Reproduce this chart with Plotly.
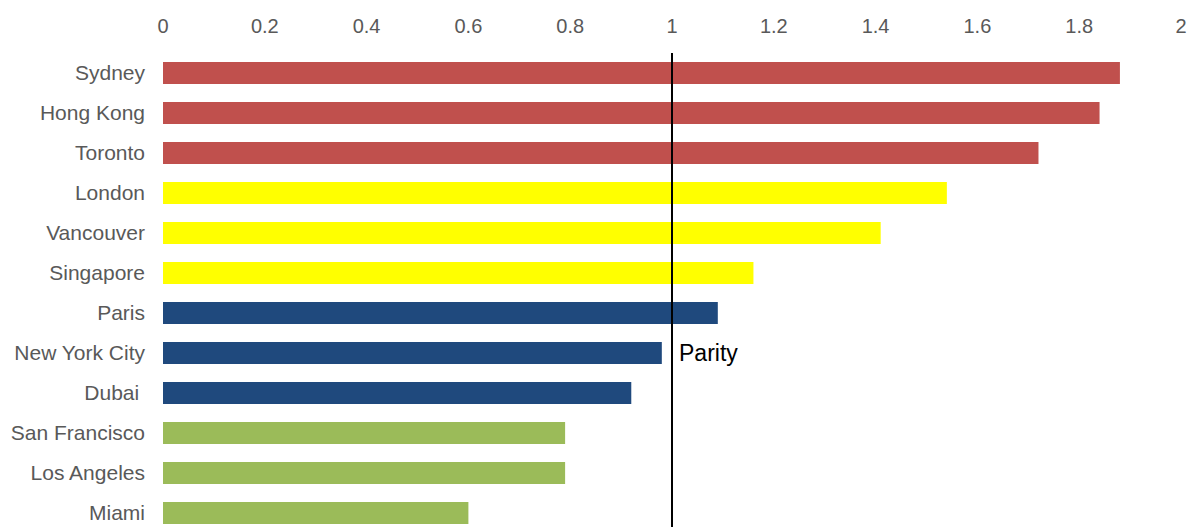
import plotly.graph_objects as go

cities = ["Sydney", "Hong Kong", "Toronto", "London", "Vancouver", "Singapore",
          "Paris", "New York City", "Dubai ", "San Francisco", "Los Angeles", "Miami"]
values = [1.88, 1.84, 1.72, 1.54, 1.41, 1.16, 1.09, 0.98, 0.92, 0.79, 0.79, 0.60]
colors = ["#C0504D"] * 3 + ["#FFFF00"] * 3 + ["#1F497D"] * 3 + ["#9BBB59"] * 3
x_ticks = [0, 0.2, 0.4, 0.6, 0.8, 1, 1.2, 1.4, 1.6, 1.8, 2]
x_tick_text = ["0", "0.2", "0.4", "0.6", "0.8", "1", "1.2", "1.4", "1.6", "1.8", "2"]
parity = 1

fig = go.Figure(go.Bar(
    x=values, y=cities, orientation="h",
    marker=dict(color=colors, line=dict(width=0)),
    width=0.55,
))

fig.add_shape(type="line", xref="x", yref="paper", x0=parity, x1=parity, y0=0, y1=1,
              line=dict(color="black", width=2))
fig.add_annotation(x=parity, y="New York City", text="Parity", showarrow=False,
                   xanchor="left", xshift=5, font=dict(size=23, color="black",
                   family="Liberation Sans, Arial, sans-serif"))

fig.update_layout(
    width=1190, height=527,
    margin=dict(l=163, r=9, t=53, b=0),
    plot_bgcolor="white", paper_bgcolor="white",
    showlegend=False,
    bargap=0.45,
    font=dict(family="Liberation Sans, Arial, sans-serif", size=20, color="#595959"),
)
fig.update_xaxes(side="top", range=[0, 2], tickvals=x_ticks, ticktext=x_tick_text,
                 showgrid=False, zeroline=False, showline=False, ticks="",
                 ticklabelstandoff=15, tickfont=dict(size=20, color="#595959"))
fig.update_yaxes(categoryorder="array", categoryarray=cities, range=[11.35, -0.5],
                 showgrid=False, zeroline=False, showline=False, ticks="",
                 ticklabelstandoff=17, tickfont=dict(size=21, color="#595959"))

fig.write_html("out.html")
